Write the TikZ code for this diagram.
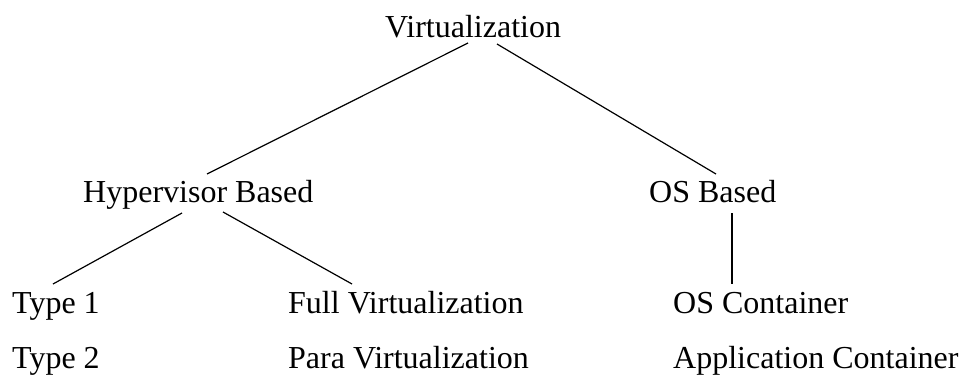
\documentclass[tikz,border=0pt]{standalone}
\usepackage{fontspec}
\setmainfont{Liberation Serif}
\usetikzlibrary{calc}
\begin{document}
\begin{tikzpicture}[x=1pt,y=1pt,
  lbl/.style={anchor=base west,inner sep=0pt,font=\fontsize{32}{38}\selectfont},
  conn/.style={line width=1.2pt,black}]
\useasboundingbox (0,0) rectangle (962,376);
\node[lbl] (virt) at (385,339) {Virtualization};
\node[lbl] (hyp) at (83,174) {Hypervisor Based};
\node[lbl] (osb) at (649,174) {OS Based};
\node[lbl] (t1) at (12,63) {Type 1};
\node[lbl] (full) at (288,63) {Full Virtualization};
\node[lbl] (osc) at (673,63) {OS Container};
\node[lbl] (t2) at (12,8) {Type 2};
\node[lbl] (para) at (288,8) {Para Virtualization};
\node[lbl] (app) at (673,8) {Application Container};
\draw[conn] ($(virt.base west)+(83,-6)$) -- ($(hyp.base west)+(124,28)$);
\draw[conn] ($(virt.base west)+(112,-7)$) -- ($(osb.base west)+(67,28)$);
\draw[conn] ($(hyp.base west)+(99,-11)$) -- ($(t1.base west)+(41,29)$);
\draw[conn] ($(hyp.base west)+(140,-10)$) -- ($(full.base west)+(64,29)$);
\draw[conn] ($(osb.base west)+(83,-11)$) -- ($(osc.base west)+(59,29)$);
\end{tikzpicture}
\end{document}
